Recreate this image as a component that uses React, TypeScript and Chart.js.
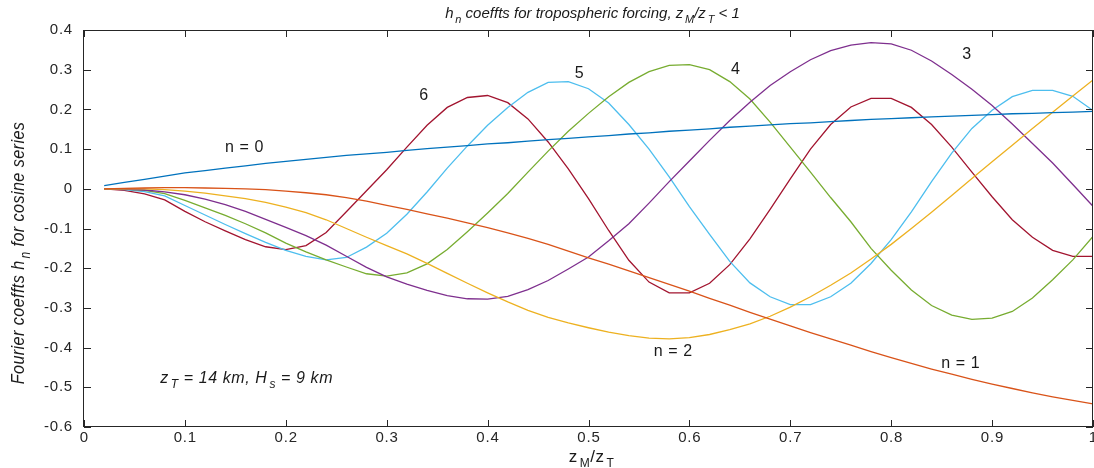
import React, { useEffect, useRef } from 'react';
import { Chart, registerables } from 'chart.js';

Chart.register(...registerables);

// z_M / z_T sample positions
const zRatio = [
  0.02, 0.04, 0.06, 0.08, 0.1, 0.12, 0.14, 0.16, 0.18, 0.2,
  0.22, 0.24, 0.26, 0.28, 0.3, 0.32, 0.34, 0.36, 0.38, 0.4,
  0.42, 0.44, 0.46, 0.48, 0.5, 0.52, 0.54, 0.56, 0.58, 0.6,
  0.62, 0.64, 0.66, 0.68, 0.7, 0.72, 0.74, 0.76, 0.78, 0.8,
  0.82, 0.84, 0.86, 0.88, 0.9, 0.92, 0.94, 0.96, 0.98, 1.0,
];

// h_n coefficients, n = 0 .. 6
const h0 = [
  0.008, 0.016, 0.024, 0.032, 0.040, 0.046, 0.052, 0.058, 0.064, 0.069,
  0.074, 0.079, 0.084, 0.088, 0.092, 0.097, 0.101, 0.105, 0.109, 0.113,
  0.116, 0.120, 0.124, 0.127, 0.131, 0.134, 0.138, 0.141, 0.145, 0.148,
  0.151, 0.155, 0.158, 0.161, 0.164, 0.166, 0.169, 0.172, 0.175, 0.177,
  0.179, 0.181, 0.183, 0.185, 0.187, 0.189, 0.190, 0.192, 0.193, 0.195,
];
const h1 = [
  0.000, 0.001, 0.002, 0.003, 0.003, 0.002, 0.001, 0.000, -0.002, -0.006,
  -0.010, -0.015, -0.022, -0.031, -0.042, -0.052, -0.063, -0.074, -0.086, -0.098,
  -0.111, -0.125, -0.140, -0.157, -0.174, -0.190, -0.207, -0.224, -0.241, -0.258,
  -0.276, -0.293, -0.311, -0.328, -0.345, -0.362, -0.378, -0.394, -0.410, -0.425,
  -0.440, -0.454, -0.467, -0.480, -0.492, -0.503, -0.514, -0.524, -0.533, -0.542,
];
const h2 = [
  0.000, 0.000, 0.000, -0.002, -0.006, -0.011, -0.018, -0.025, -0.034, -0.046,
  -0.060, -0.078, -0.100, -0.122, -0.143, -0.164, -0.188, -0.213, -0.238, -0.262,
  -0.285, -0.306, -0.324, -0.338, -0.350, -0.361, -0.370, -0.376, -0.378, -0.375,
  -0.367, -0.355, -0.340, -0.321, -0.298, -0.272, -0.243, -0.212, -0.177, -0.140,
  -0.100, -0.059, -0.017, 0.026, 0.068, 0.110, 0.152, 0.193, 0.234, 0.274,
];
const h3 = [
  0.000, -0.001, -0.003, -0.008, -0.015, -0.026, -0.040, -0.057, -0.077, -0.097,
  -0.118, -0.142, -0.170, -0.198, -0.222, -0.240, -0.256, -0.269, -0.277, -0.278,
  -0.271, -0.254, -0.231, -0.202, -0.172, -0.131, -0.088, -0.036, 0.018, 0.070,
  0.122, 0.172, 0.218, 0.260, 0.295, 0.325, 0.348, 0.362, 0.368, 0.365,
  0.349, 0.322, 0.288, 0.251, 0.210, 0.163, 0.114, 0.065, 0.011, -0.044,
];
const h4 = [
  0.000, -0.001, -0.004, -0.012, -0.029, -0.048, -0.067, -0.088, -0.111, -0.137,
  -0.159, -0.179, -0.197, -0.214, -0.220, -0.212, -0.189, -0.153, -0.108, -0.061,
  -0.012, 0.042, 0.095, 0.145, 0.190, 0.232, 0.268, 0.295, 0.311, 0.313,
  0.300, 0.270, 0.226, 0.168, 0.105, 0.042, -0.022, -0.083, -0.150, -0.205,
  -0.255, -0.294, -0.318, -0.329, -0.326, -0.309, -0.275, -0.229, -0.179, -0.120,
];
const h5 = [
  0.000, -0.002, -0.007, -0.018, -0.042, -0.066, -0.090, -0.113, -0.135, -0.155,
  -0.170, -0.179, -0.173, -0.147, -0.112, -0.064, -0.008, 0.052, 0.108, 0.160,
  0.205, 0.243, 0.268, 0.270, 0.252, 0.216, 0.162, 0.100, 0.030, -0.045,
  -0.115, -0.183, -0.237, -0.272, -0.292, -0.292, -0.272, -0.238, -0.188, -0.128,
  -0.058, 0.018, 0.090, 0.152, 0.198, 0.232, 0.248, 0.248, 0.233, 0.197,
];
const h6 = [
  0.000, -0.004, -0.013, -0.028, -0.057, -0.083, -0.106, -0.128, -0.146, -0.153,
  -0.143, -0.110, -0.058, -0.005, 0.048, 0.105, 0.160, 0.205, 0.230, 0.235,
  0.217, 0.176, 0.118, 0.050, -0.025, -0.105, -0.180, -0.235, -0.262, -0.262,
  -0.238, -0.191, -0.126, -0.052, 0.025, 0.100, 0.162, 0.206, 0.228, 0.228,
  0.205, 0.162, 0.105, 0.042, -0.020, -0.078, -0.122, -0.155, -0.170, -0.170,
];

const seriesValues = [h0, h1, h2, h3, h4, h5, h6];
const seriesNames = ['n = 0', 'n = 1', 'n = 2', 'n = 3', 'n = 4', 'n = 5', 'n = 6'];
const seriesColors = ['#0072BD', '#D95319', '#EDB120', '#7E2F8E', '#77AC30', '#4DBEEE', '#A2142F'];

const xTickValues = [0, 0.1, 0.2, 0.3, 0.4, 0.5, 0.6, 0.7, 0.8, 0.9, 1];
const xTickLabels = ['0', '0.1', '0.2', '0.3', '0.4', '0.5', '0.6', '0.7', '0.8', '0.9', '1'];
const yTickValues = [-0.6, -0.5, -0.4, -0.3, -0.2, -0.1, 0, 0.1, 0.2, 0.3, 0.4];
const yTickLabels = ['-0.6', '-0.5', '-0.4', '-0.3', '-0.2', '-0.1', '0', '0.1', '0.2', '0.3', '0.4'];

type Seg = { t: string; sub?: boolean };

// curve annotations, placed in data coordinates
const curveNotes: { segs: Seg[]; x: number; y: number; italic?: boolean; align: 'center' | 'left' }[] = [
  { segs: [{ t: 'n = 0' }], x: 0.159, y: 0.104, align: 'center' },
  { segs: [{ t: '6' }], x: 0.337, y: 0.236, align: 'center' },
  { segs: [{ t: '5' }], x: 0.491, y: 0.289, align: 'center' },
  { segs: [{ t: '4' }], x: 0.646, y: 0.301, align: 'center' },
  { segs: [{ t: '3' }], x: 0.875, y: 0.339, align: 'center' },
  { segs: [{ t: 'n = 2' }], x: 0.584, y: -0.411, align: 'center' },
  { segs: [{ t: 'n = 1' }], x: 0.869, y: -0.441, align: 'center' },
  {
    segs: [{ t: 'z' }, { t: 'T', sub: true }, { t: ' = 14 km, H' }, { t: 's', sub: true }, { t: ' = 9 km' }],
    x: 0.0755, y: -0.478, italic: true, align: 'left',
  },
];

const titleSegs: Seg[] = [
  { t: 'h' }, { t: 'n', sub: true }, { t: ' coeffts for tropospheric forcing, z' },
  { t: 'M', sub: true }, { t: '/z' }, { t: 'T', sub: true }, { t: ' < 1' },
];
const xTitleSegs: Seg[] = [{ t: 'z' }, { t: 'M', sub: true }, { t: '/z' }, { t: 'T', sub: true }];
const yTitleSegs: Seg[] = [{ t: 'Fourier coeffts h' }, { t: 'n', sub: true }, { t: ' for cosine series' }];

const SANS = "'Liberation Sans', Arial, Helvetica, sans-serif";

function drawRich(
  ctx: CanvasRenderingContext2D,
  segs: Seg[],
  x: number,
  y: number,
  size: number,
  style: string,
  align: 'center' | 'left',
  spacing: number,
) {
  const mainFont = `${style} ${size}px ${SANS}`;
  const subFont = `${style} ${Math.round(size * 0.72)}px ${SANS}`;
  const gap = size * 0.12;
  (ctx as any).letterSpacing = `${spacing}px`;
  let width = 0;
  for (const s of segs) {
    ctx.font = s.sub ? subFont : mainFont;
    width += ctx.measureText(s.t).width + (s.sub ? gap : 0);
  }
  let cx = align === 'center' ? x - width / 2 : x;
  ctx.textAlign = 'left';
  ctx.textBaseline = 'middle';
  for (const s of segs) {
    ctx.font = s.sub ? subFont : mainFont;
    if (s.sub) cx += gap;
    ctx.fillText(s.t, cx, s.sub ? y + size * 0.38 : y);
    cx += ctx.measureText(s.t).width;
  }
  (ctx as any).letterSpacing = '0px';
}

const axesDecor = {
  id: 'axesDecor',
  afterDraw(chart: Chart) {
    const { ctx, chartArea: a } = chart;
    const sx = chart.scales.x;
    const sy = chart.scales.y;
    const tick = 7;
    ctx.save();

    ctx.strokeStyle = '#262626';
    ctx.lineWidth = 1;
    ctx.strokeRect(Math.round(a.left) - 0.5, Math.round(a.top) + 0.5, Math.round(a.right - a.left), Math.round(a.bottom - a.top) - 1);

    ctx.beginPath();
    xTickValues.forEach((v) => {
      const px = Math.round(sx.getPixelForValue(v)) + 0.5;
      ctx.moveTo(px, a.bottom);
      ctx.lineTo(px, a.bottom - tick);
      ctx.moveTo(px, a.top);
      ctx.lineTo(px, a.top + tick);
    });
    yTickValues.forEach((v) => {
      const py = Math.round(sy.getPixelForValue(v)) + 0.5;
      ctx.moveTo(a.left, py);
      ctx.lineTo(a.left + tick, py);
      ctx.moveTo(a.right, py);
      ctx.lineTo(a.right - tick, py);
    });
    ctx.stroke();

    ctx.fillStyle = '#262626';
    (ctx as any).letterSpacing = '0.8px';
    ctx.font = `15px ${SANS}`;
    ctx.textBaseline = 'middle';
    ctx.textAlign = 'center';
    xTickValues.forEach((v, i) => {
      ctx.fillText(xTickLabels[i], sx.getPixelForValue(v) + 0.4, a.bottom + 11);
    });
    ctx.textAlign = 'right';
    yTickValues.forEach((v, i) => {
      ctx.fillText(yTickLabels[i], a.left - 11, sy.getPixelForValue(v));
    });
    (ctx as any).letterSpacing = '0px';

    ctx.fillStyle = '#1a1a1a';
    drawRich(ctx, titleSegs, (a.left + a.right) / 2 + 4, 14, 15, 'italic', 'center', 0);
    drawRich(ctx, xTitleSegs, (a.left + a.right) / 2 + 3, 457, 17, 'normal', 'center', 0.5);

    ctx.save();
    ctx.translate(19, 253);
    ctx.rotate(-Math.PI / 2);
    ctx.scale(0.85, 1);
    drawRich(ctx, yTitleSegs, 0, 0, 19, 'italic', 'center', 0.5);
    ctx.restore();

    curveNotes.forEach((n) => {
      drawRich(
        ctx, n.segs, sx.getPixelForValue(n.x), sy.getPixelForValue(n.y),
        16, n.italic ? 'italic' : 'normal', n.align, 0.6,
      );
    });

    ctx.restore();
  },
};

export default function App() {
  const canvasRef = useRef<HTMLCanvasElement>(null);

  useEffect(() => {
    document.body.style.margin = '0';
    document.body.style.background = '#ffffff';
    const canvas = canvasRef.current;
    if (!canvas) return;
    const chart = new Chart(canvas, {
      type: 'line',
      data: {
        datasets: seriesValues.map((vals, k) => ({
          label: seriesNames[k],
          data: zRatio.map((z, i) => ({ x: z, y: vals[i] })),
          borderColor: seriesColors[k],
          backgroundColor: seriesColors[k],
          borderWidth: 1.3,
          pointRadius: 0,
          tension: 0,
          fill: false,
        })),
      },
      options: {
        responsive: false,
        animation: false,
        devicePixelRatio: 1,
        layout: { padding: { left: 84, right: 1, top: 30, bottom: 41 } },
        plugins: { legend: { display: false }, tooltip: { enabled: false }, title: { display: false } },
        scales: {
          x: { type: 'linear', min: 0, max: 1, display: false },
          y: { type: 'linear', min: -0.6, max: 0.4, display: false },
        },
      },
      plugins: [axesDecor],
    });
    return () => chart.destroy();
  }, []);

  return (
    <div style={{ width: 1094, height: 468, background: '#ffffff' }}>
      <canvas ref={canvasRef} width={1094} height={468} style={{ display: 'block', width: 1094, height: 468 }} />
    </div>
  );
}
